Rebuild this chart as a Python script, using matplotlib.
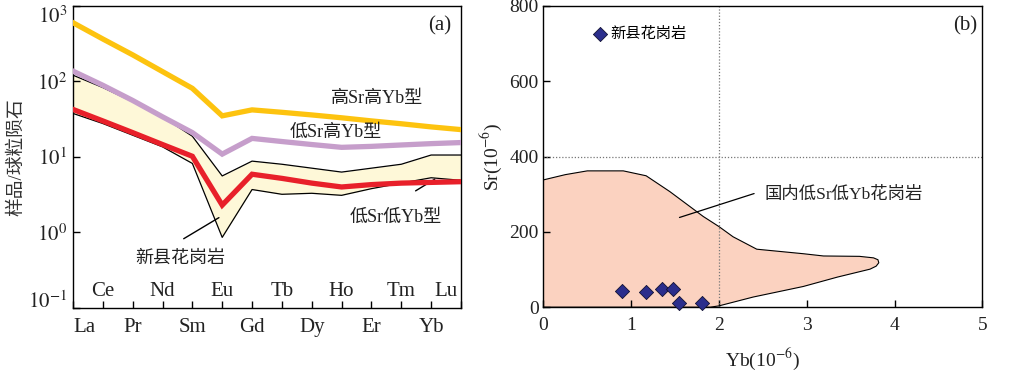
import numpy as np
import matplotlib
matplotlib.use("Agg")
import matplotlib.pyplot as plt
from matplotlib.transforms import blended_transform_factory

plt.rcParams['font.family'] = ['Liberation Serif', 'Noto Sans CJK SC']
plt.rcParams['mathtext.fontset'] = 'stix'
plt.rcParams['axes.linewidth'] = 1.0

# ---- panel (a) data: chondrite-normalised REE ----
elements = ["La", "Ce", "Pr", "Nd", "Sm", "Eu", "Gd", "Tb", "Dy", "Ho", "Er", "Tm", "Yb", "Lu"]
high_sr_high_yb = [600, 365, 225, 135, 81, 35, 42, 39, 36, 33, 30, 27.5, 25, 23]
low_sr_high_yb = [137, 89, 56, 34, 21, 10.9, 17.6, 16.0, 14.6, 13.4, 13.8, 14.4, 15.0, 15.5]
xinxian_mean = [42.6, 30, 21, 14.6, 10.2, 2.3, 5.9, 5.2, 4.5, 4.0, 4.3, 4.5, 4.6, 4.7]
field_upper = [121, 83, 54, 34, 18.8, 5.6, 8.8, 8.0, 7.1, 6.3, 7.1, 8.0, 10.6, 10.6]
field_lower = [37.7, 27.7, 19.4, 13.6, 8.2, 0.86, 3.7, 3.2, 3.3, 3.1, 3.8, 4.5, 5.3, 4.9]

# ---- panel (b) data: Sr vs Yb ----
xx_yb = [0.90, 1.17, 1.35, 1.48, 1.54, 1.81]
xx_sr = [43, 41, 49, 49, 11, 11]
field_b_yb = [0, 0.25, 0.5, 0.91, 1.17, 1.44, 1.82, 2.0, 2.16, 2.43, 2.96, 3.19, 3.6,
              3.76, 3.81, 3.82, 3.79, 3.72, 3.35, 2.96, 2.39, 2.0, 1.90, 0]
field_b_sr = [338, 352, 362, 362, 349, 307, 241, 214, 187, 154, 142, 136, 135,
              131, 126, 118, 109, 101, 80, 55, 27, 3.5, 0, 0]

fig = plt.figure(figsize=(10.35, 3.71), dpi=100)
ax1 = fig.add_axes([0.0705, 0.170, 0.3749, 0.814])
ax2 = fig.add_axes([0.525, 0.172, 0.4242, 0.812])

txt = '#222222'
x = np.arange(len(elements))

# panel (a)
ax1.fill_between(x, field_lower, field_upper, color='#FEF8D8', lw=0, zorder=1)
ax1.plot(x, field_upper, color='black', lw=0.9, zorder=2)
ax1.plot(x, field_lower, color='black', lw=0.9, zorder=2)
ax1.plot(x, high_sr_high_yb, color='#FDC30F', lw=3.8, solid_joinstyle='miter', zorder=3)
ax1.plot(x, low_sr_high_yb, color='#C69ECB', lw=3.8, solid_joinstyle='miter', zorder=3)
ax1.plot(x, xinxian_mean, color='#E8202A', lw=3.8, solid_joinstyle='miter', zorder=4)

ax1.set_yscale('log')
ax1.set_ylim(0.1, 1000)
ax1.set_xlim(0, 13)
ax1.set_yticks([0.1, 1, 10, 100, 1000])
ylabs = ax1.set_yticklabels(['$10^{-1}$', '$10^{0}$', '$10^{1}$', '$10^{2}$', '$10^{3}$'],
                            fontsize=15, color=txt)
ylabs[0].set_va('baseline')
ylabs[-1].set_va('top')
ax1.yaxis.set_minor_locator(matplotlib.ticker.NullLocator())
ax1.set_xticks(x)
ax1.set_xticklabels([])
ax1.tick_params(direction='in', length=5, width=1.0, top=False, right=False)
ax1.tick_params(axis='y', pad=4)
ax1.set_ylabel('样品/球粒陨石', fontsize=13.5, color='#333333')
ax1.yaxis.set_label_coords(-0.124, 0.5)

trans = blended_transform_factory(ax1.transData, ax1.transAxes)
for i, el in enumerate(elements):
    ha = 'center'
    xi = i
    if i == 0:
        ha, xi = 'left', 0.02
    elif i == len(elements) - 1:
        ha, xi = 'right', i - 0.1
    yy = -0.065 if i % 2 == 0 else 0.055
    ax1.text(xi, yy, el, transform=trans, ha=ha, va='center', fontsize=15, color=txt)

ax1.text(0.945, 0.935, '(a)', transform=ax1.transAxes, ha='center', va='center', fontsize=15, color=txt)
ax1.text(10.2, 60, '高Sr高Yb型', ha='center', va='center', fontsize=13, color=txt)
ax1.text(8.8, 21, '低Sr高Yb型', ha='center', va='center', fontsize=13, color=txt)
ax1.text(10.8, 1.58, '低Sr低Yb型', ha='center', va='center', fontsize=13, color=txt)
ax1.annotate('', xy=(12.2, 5.3), xytext=(11.4, 3.4),
             arrowprops=dict(arrowstyle='-', color='black', lw=1.0))
ax1.text(3.6, 0.46, '新县花岗岩', ha='center', va='center', fontsize=13, color=txt)
ax1.annotate('', xy=(4.97, 1.64), xytext=(3.63, 0.79),
             arrowprops=dict(arrowstyle='-', color='black', lw=1.0))

# panel (b)
ax2.fill(field_b_yb, field_b_sr, facecolor='#FBD2C0', edgecolor='black', lw=0.8, zorder=1)
ax2.axvline(2, color='#777777', lw=0.9, ls=(0, (1, 1.5)), zorder=2)
ax2.axhline(400, color='#777777', lw=0.9, ls=(0, (1, 1.5)), zorder=2)
ax2.scatter(xx_yb, xx_sr, marker='D', s=52, color='#2B2E8C', edgecolor='#111133',
            lw=0.6, zorder=5, clip_on=False, label='新县花岗岩')
ax2.set_xlim(0, 5)
ax2.set_ylim(0, 800)
ax2.set_xticks(range(6))
ax2.set_yticks(range(0, 801, 200))
ax2.tick_params(direction='in', length=5, width=1.0, labelsize=14, labelcolor=txt)
ax2.tick_params(axis='x', pad=7)
ax2.set_xlabel('Yb(10$^{-6}$)', fontsize=14, color=txt, labelpad=9)
ax2.set_ylabel('Sr(10$^{-6}$)', fontsize=14, color=txt, labelpad=4)
ax2.text(4.80, 747, '(b)', ha='center', va='center', fontsize=15, color=txt)
ax2.text(2.52, 298, '国内低Sr低Yb花岗岩', ha='left', va='center', fontsize=12.5, color=txt)
ax2.annotate('', xy=(1.52, 236), xytext=(2.43, 304),
             arrowprops=dict(arrowstyle='-', color='black', lw=0.9))
ax2.legend(loc='center left', bbox_to_anchor=(0.095, 0.907), frameon=False,
           handletextpad=0.05, handlelength=1.2, fontsize=11, borderaxespad=0)

fig.savefig('out.png', dpi=100)
